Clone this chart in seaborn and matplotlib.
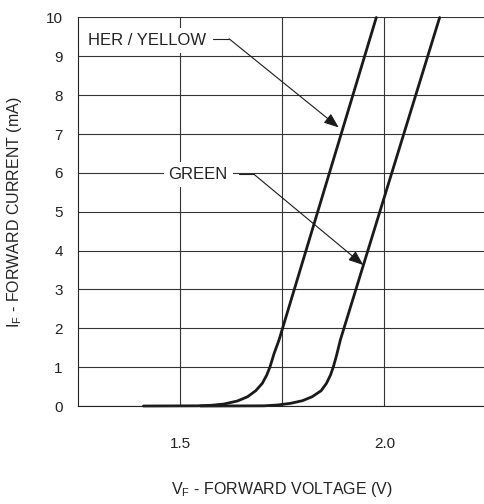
import numpy as np
import pandas as pd
import matplotlib
matplotlib.use('Agg')
import matplotlib.pyplot as plt
import seaborn as sns

# values (forward voltage V, forward current mA)
her_v = [1.41, 1.542, 1.575, 1.607, 1.640, 1.665, 1.685, 1.701, 1.712, 1.720,
         1.730, 1.742, 1.980]
her_i = [0, 0.005, 0.018, 0.051, 0.129, 0.239, 0.394, 0.584, 0.798, 1.012,
         1.356, 1.70, 10.0]
green_v = [1.55, 1.705, 1.738, 1.770, 1.799, 1.823, 1.845, 1.858, 1.868, 1.875,
           1.883, 1.892, 2.135]
green_i = [0, 0.005, 0.026, 0.069, 0.136, 0.239, 0.394, 0.584, 0.798, 1.012,
           1.313, 1.70, 10.0]

x_ticks = [1.5, 1.75, 2.0]
x_labels = ['1.5', '', '2.0']
y_ticks = list(range(0, 11))

sns.set_style('white')
plt.rcParams['font.family'] = ['Liberation Sans', 'DejaVu Sans']

df = pd.concat([
    pd.DataFrame({'v': her_v, 'i': her_i, 'led': 'HER / YELLOW'}),
    pd.DataFrame({'v': green_v, 'i': green_i, 'led': 'GREEN'}),
])

fig = plt.figure(figsize=(4.85, 5.04), dpi=100)
ax = fig.add_axes([0.1608, 0.1944, 0.8392, 0.7709])

ax.set_xlim(1.25, 2.246)
ax.set_ylim(0, 10)
ax.set_xticks(x_ticks)
ax.set_xticklabels(x_labels)
ax.set_yticks(y_ticks)
ax.grid(True, color='#333333', lw=0.8)
ax.tick_params(length=0, labelsize=11, colors='#222222')
ax.tick_params(axis='x', pad=22)
ax.tick_params(axis='y', pad=11)
for s in ['top', 'right']:
    ax.spines[s].set_visible(False)
ax.spines['left'].set_color('#222222')
ax.spines['left'].set_linewidth(0.8)
ax.spines['bottom'].set_color('#222222')
ax.spines['bottom'].set_linewidth(0.8)

sns.lineplot(data=df, x='v', y='i', units='led', estimator=None, sort=False,
             color='#1a1a1a', lw=2, ax=ax, clip_on=False, legend=False)

# labels with leader lines
box = dict(boxstyle='square,pad=0.3', fc='white', ec='none')
ax.text(1.419, 9.42, 'HER / YELLOW', ha='center', va='center', fontsize=12,
        color='#222222', bbox=box, zorder=5)
ax.plot([1.58, 1.62], [9.45, 9.45], color='#222222', lw=0.8, zorder=5)
ax.annotate('', xy=(1.888, 7.17), xytext=(1.62, 9.45),
            arrowprops=dict(arrowstyle='-|>,head_length=0.9,head_width=0.35',
                            color='#1a1a1a', lw=0.8, shrinkA=0, shrinkB=0), zorder=5)

ax.text(1.544, 5.97, 'GREEN', ha='center', va='center', fontsize=12,
        color='#222222', bbox=box, zorder=5)
ax.plot([1.645, 1.68], [5.97, 5.97], color='#222222', lw=0.8, zorder=5)
ax.annotate('', xy=(1.948, 3.63), xytext=(1.68, 5.97),
            arrowprops=dict(arrowstyle='-|>,head_length=0.9,head_width=0.35',
                            color='#1a1a1a', lw=0.8, shrinkA=0, shrinkB=0), zorder=5)

ax.set_xlabel(r'$\mathregular{V_F}$ - FORWARD VOLTAGE (V)', fontsize=11.5,
              color='#222222', va='center')
ax.set_ylabel(r'$\mathregular{I_F}$ - FORWARD CURRENT (mA)', fontsize=11.5,
              color='#222222', va='center')
ax.xaxis.set_label_coords(0.5, -0.216)
ax.yaxis.set_label_coords(-0.157, 0.5)

fig.savefig('out.png', dpi=100)
